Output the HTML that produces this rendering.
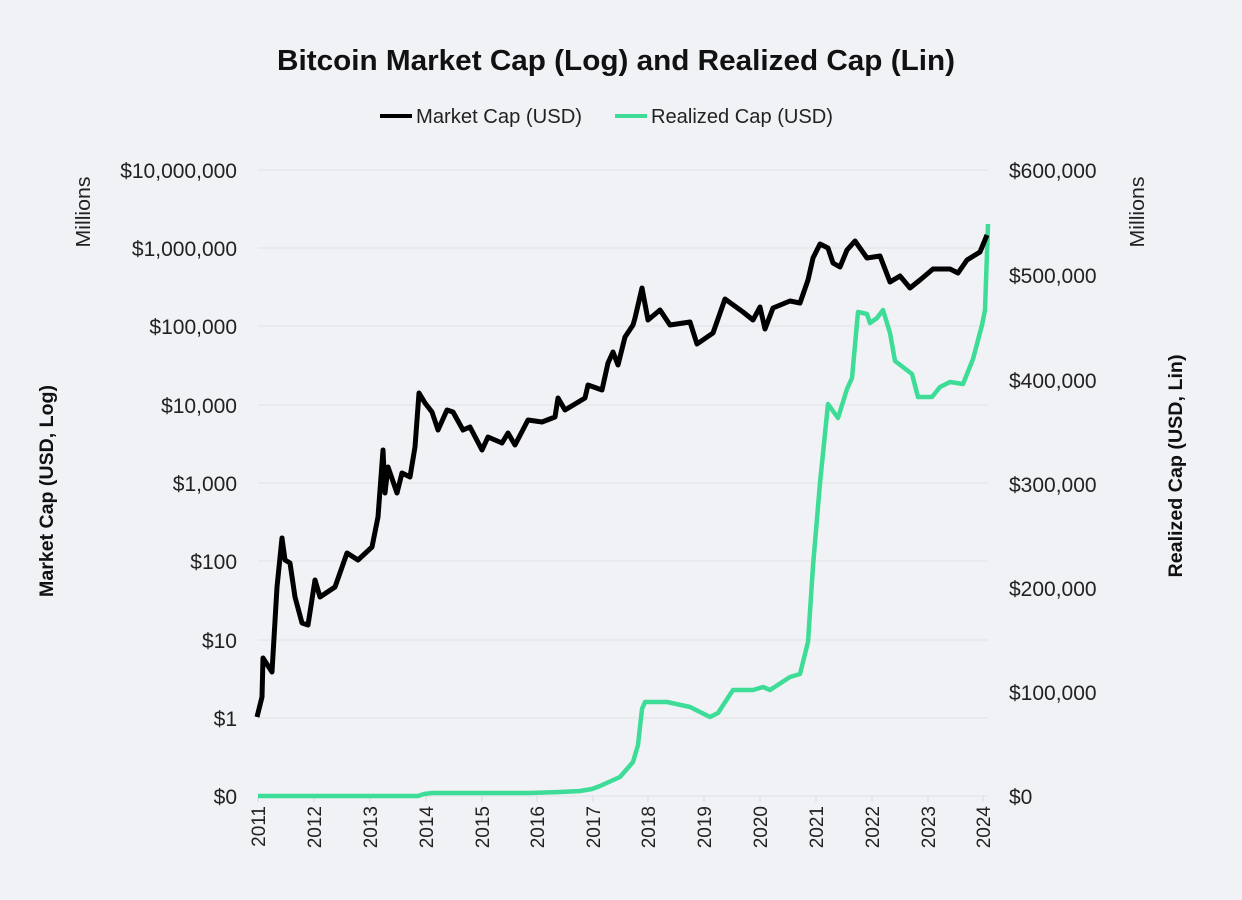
<!DOCTYPE html>
<html><head><meta charset="utf-8"><style>
html,body{margin:0;padding:0;background:#f1f2f6;}
svg{display:block;font-family:"Liberation Sans",sans-serif;}
</style></head><body>
<svg width="1242" height="900" viewBox="0 0 1242 900">
<rect width="1242" height="900" fill="#f1f2f6"/>
<text x="616" y="70" text-anchor="middle" font-size="29" font-weight="bold" fill="#111" textLength="678" lengthAdjust="spacingAndGlyphs">Bitcoin Market Cap (Log) and Realized Cap (Lin)</text>
<line x1="380" y1="116" x2="412" y2="116" stroke="#000" stroke-width="4"/>
<text x="416" y="123" font-size="20" fill="#222" textLength="166" lengthAdjust="spacingAndGlyphs">Market Cap (USD)</text>
<line x1="615" y1="116" x2="647" y2="116" stroke="#3ddc97" stroke-width="4"/>
<text x="651" y="123" font-size="20" fill="#222" textLength="182" lengthAdjust="spacingAndGlyphs">Realized Cap (USD)</text>
<g stroke="#e0e1e5" stroke-width="1">
<line x1="258" y1="170" x2="988" y2="170"/><line x1="258" y1="248" x2="988" y2="248"/><line x1="258" y1="326" x2="988" y2="326"/><line x1="258" y1="405" x2="988" y2="405"/><line x1="258" y1="483" x2="988" y2="483"/><line x1="258" y1="561" x2="988" y2="561"/><line x1="258" y1="640" x2="988" y2="640"/><line x1="258" y1="718" x2="988" y2="718"/><line x1="258" y1="796" x2="988" y2="796"/>
</g>
<g stroke="#d8d9dd" stroke-width="1">
<line x1="258" y1="796" x2="258" y2="802"/><line x1="314" y1="796" x2="314" y2="802"/><line x1="370" y1="796" x2="370" y2="802"/><line x1="426" y1="796" x2="426" y2="802"/><line x1="482" y1="796" x2="482" y2="802"/><line x1="537" y1="796" x2="537" y2="802"/><line x1="593" y1="796" x2="593" y2="802"/><line x1="648" y1="796" x2="648" y2="802"/><line x1="704" y1="796" x2="704" y2="802"/><line x1="760" y1="796" x2="760" y2="802"/><line x1="816" y1="796" x2="816" y2="802"/><line x1="872" y1="796" x2="872" y2="802"/><line x1="928" y1="796" x2="928" y2="802"/><line x1="983" y1="796" x2="983" y2="802"/>
</g>
<g font-size="21" fill="#222" text-anchor="end">
<text x="237" y="178">$10,000,000</text><text x="237" y="256">$1,000,000</text><text x="237" y="334">$100,000</text><text x="237" y="413">$10,000</text><text x="237" y="491">$1,000</text><text x="237" y="569">$100</text><text x="237" y="648">$10</text><text x="237" y="726">$1</text><text x="237" y="804">$0</text>
</g>
<g font-size="21" fill="#222">
<text x="1009" y="178">$600,000</text><text x="1009" y="283">$500,000</text><text x="1009" y="388">$400,000</text><text x="1009" y="492">$300,000</text><text x="1009" y="596">$200,000</text><text x="1009" y="700">$100,000</text><text x="1009" y="804">$0</text>
</g>
<g font-size="19" fill="#222" text-anchor="end">
<text transform="translate(265,806) rotate(-90)">2011</text><text transform="translate(321,806) rotate(-90)">2012</text><text transform="translate(377,806) rotate(-90)">2013</text><text transform="translate(433,806) rotate(-90)">2014</text><text transform="translate(489,806) rotate(-90)">2015</text><text transform="translate(544,806) rotate(-90)">2016</text><text transform="translate(600,806) rotate(-90)">2017</text><text transform="translate(655,806) rotate(-90)">2018</text><text transform="translate(711,806) rotate(-90)">2019</text><text transform="translate(767,806) rotate(-90)">2020</text><text transform="translate(823,806) rotate(-90)">2021</text><text transform="translate(879,806) rotate(-90)">2022</text><text transform="translate(935,806) rotate(-90)">2023</text><text transform="translate(990,806) rotate(-90)">2024</text>
</g>
<text transform="translate(90,212) rotate(-90)" text-anchor="middle" font-size="20" fill="#222" textLength="71" lengthAdjust="spacingAndGlyphs">Millions</text>
<text transform="translate(1144,212) rotate(-90)" text-anchor="middle" font-size="20" fill="#222" textLength="71" lengthAdjust="spacingAndGlyphs">Millions</text>
<text transform="translate(53,491) rotate(-90)" text-anchor="middle" font-size="19.5" font-weight="bold" fill="#111" textLength="212" lengthAdjust="spacingAndGlyphs">Market Cap (USD, Log)</text>
<text transform="translate(1182,466) rotate(-90)" text-anchor="middle" font-size="19.5" font-weight="bold" fill="#111" textLength="223" lengthAdjust="spacingAndGlyphs">Realized Cap (USD, Lin)</text>
<polyline fill="none" stroke="#3ddc97" stroke-width="4.5" stroke-linejoin="round" points="258,796 418,796 424,794 432,793 530,793 560,792 580,791 592,789 600,786 620,777 633,762 638,745 642,709 645,702 667,702 690,707 710,717 718,713 733,690 753,690 763,687 770,690 790,677 800,674 808,642 813,566 820,483 828,404 838,418 847,389 852,378 858,312 867,314 870,323 877,318 883,310 890,333 895,361 912,374 918,397 932,397 940,387 950,382 963,384 973,359 982,325 985,310 988,224"/>
<polyline fill="none" stroke="#000" stroke-width="5" stroke-linejoin="round" points="257,717 262,697 263,658 272,672 277,587 282,538 285,560 290,563 295,597 302,623 308,625 315,580 320,597 335,587 347,553 358,560 372,547 378,517 383,450 385,493 388,467 397,493 402,473 410,477 415,447 419,393 425,403 432,412 438,430 447,410 453,412 463,430 470,427 482,450 488,437 502,443 508,433 515,445 528,420 542,422 555,417 558,398 565,410 585,398 588,385 602,390 608,363 613,352 618,365 625,337 633,325 635,318 642,288 648,320 660,310 670,325 690,322 697,344 713,333 725,299 743,312 753,320 760,307 765,329 773,308 790,301 800,303 808,280 813,258 820,244 828,248 833,263 840,267 847,250 855,241 867,258 880,256 890,282 900,276 910,288 920,280 933,269 950,269 958,273 967,260 980,252 987,235"/>
</svg>
</body></html>
